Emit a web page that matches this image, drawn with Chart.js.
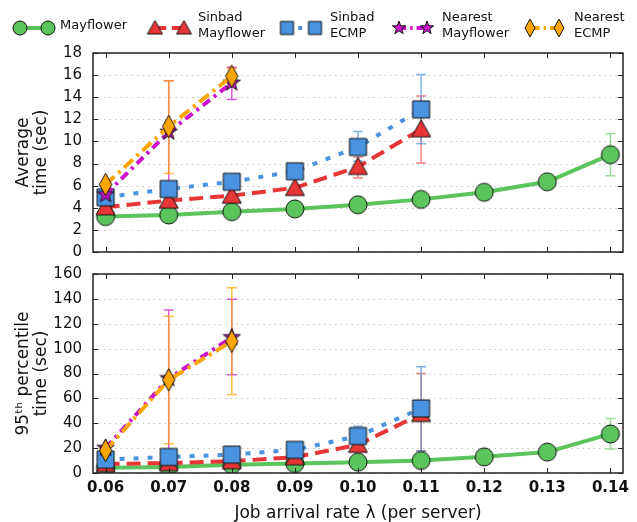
<!DOCTYPE html>
<html>
<head>
<meta charset="utf-8">
<script src="https://cdn.jsdelivr.net/npm/chart.js@4.4.0/dist/chart.umd.min.js"></script>
<style>
  body { margin: 0; background: #fff; font-family: 'DejaVu Sans', sans-serif; }
  #wrap { position: relative; width: 637px; height: 522px; overflow: hidden; }
  canvas.plot { position: absolute; left: 0; }
  .icon { position: absolute; top: 16px; }
  .lbl { position: absolute; top: 0; height: 50px; display: flex; align-items: center; font-size: 13px; line-height: 16px; color: #111; }
</style>
</head>
<body>
<div id="wrap">
  <canvas id="avgChart" class="plot" width="637" height="227" style="top:39px"></canvas>
  <canvas id="p95Chart" class="plot" width="637" height="265" style="top:257px"></canvas>
  <div id="legend"></div>
</div>
<script>
// x axis: job arrival rate per server
const rates = [0.06, 0.07, 0.08, 0.09, 0.10, 0.11, 0.12, 0.13, 0.14];

// Average time (sec)
const avgMayflower   = [3.2, 3.35, 3.65, 3.9, 4.27, 4.76, 5.4, 6.35, 8.8];
const avgSinbadMay   = [4.05, 4.65, 5.1, 5.8, 7.7, 11.1];
const avgSinbadEcmp  = [4.95, 5.7, 6.35, 7.3, 9.5, 12.9];
const avgNearestMay  = [5.2, 10.85, 15.3];
const avgNearestEcmp = [6.1, 11.35, 15.9];

// error bars [low, high] per point (null = none drawn)
const avgMayflowerErr   = [null, null, null, null, null, null, null, null, [6.9, 10.7]];
const avgSinbadMayErr   = [null, null, null, null, [6.7, 8.6], [8.05, 14.1]];
const avgSinbadEcmpErr  = [null, null, null, null, [8.2, 10.9], [9.8, 16.05]];
const avgNearestMayErr  = [null, [5.9, 15.5], [13.8, 16.7]];
const avgNearestEcmpErr = [null, [7.1, 15.5], [15.2, 16.6]];

// 95th percentile time (sec)
const p95Mayflower   = [4.2, 4.9, 6.6, 7.6, 8.7, 10.0, 13.0, 16.8, 31.4];
const p95SinbadMay   = [7.3, 8.0, 9.5, 12.7, 22.7, 47.5];
const p95SinbadEcmp  = [10.8, 12.9, 14.8, 18.6, 29.7, 51.9];
const p95NearestMay  = [20, 76, 109];
const p95NearestEcmp = [18.1, 74.9, 105.9];

const p95MayflowerErr   = [null, null, null, null, null, null, null, null, [19.2, 43.8]];
const p95SinbadMayErr   = [null, null, null, null, null, [17.6, 80]];
const p95SinbadEcmpErr  = [null, null, null, null, [25, 37.6], [17.6, 85.4]];
const p95NearestMayErr  = [null, [18, 131], [79, 139.7]];
const p95NearestEcmpErr = [null, [23.5, 126], [63.2, 149]];

const avgTicks = [0, 2, 4, 6, 8, 10, 12, 14, 16, 18];
const p95Ticks = [0, 20, 40, 60, 80, 100, 120, 140, 160];

Chart.defaults.font.family = "'DejaVu Sans', sans-serif";
Chart.defaults.color = '#111';

// marker images
function makeMarker(kind, fill, s) {
    const c = document.createElement('canvas');
    const pad = 2;
    let w = s, h = s;
    if (kind === 'diamond') { w = s * 0.62; h = s * 1.12; }
    c.width = Math.ceil(w + pad * 2);
    c.height = Math.ceil(h + pad * 2);
    const g = c.getContext('2d');
    const cx = c.width / 2, cy = c.height / 2;
    g.beginPath();
    if (kind === 'circle') {
        g.arc(cx, cy, s / 2, 0, Math.PI * 2);
    } else if (kind === 'triangle') {
        g.moveTo(cx, cy - s / 2);
        g.lineTo(cx + s / 2, cy + s / 2 * 0.8);
        g.lineTo(cx - s / 2, cy + s / 2 * 0.8);
        g.closePath();
    } else if (kind === 'square') {
        g.rect(cx - s / 2, cy - s / 2, s, s);
    } else if (kind === 'star') {
        for (let i = 0; i < 10; i++) {
            const r = i % 2 === 0 ? s / 2 : s / 5;
            const a = -Math.PI / 2 + i * Math.PI / 5;
            const px = cx + r * Math.cos(a), py = cy + r * Math.sin(a);
            if (i === 0) g.moveTo(px, py); else g.lineTo(px, py);
        }
        g.closePath();
    } else if (kind === 'diamond') {
        g.moveTo(cx, cy - h / 2);
        g.lineTo(cx + w / 2, cy);
        g.lineTo(cx, cy + h / 2);
        g.lineTo(cx - w / 2, cy);
        g.closePath();
    }
    g.fillStyle = fill;
    g.fill();
    g.lineWidth = 1;
    g.strokeStyle = '#111';
    g.stroke();
    return c;
}

const series = [
    { name: ['Mayflower'], color: '#5cc45c', err: 'rgba(92,196,92,0.6)', marker: 'circle', size: 18, dash: [] },
    { name: ['Sinbad', 'Mayflower'], color: '#e83535', err: 'rgba(232,53,53,0.6)', marker: 'triangle', size: 19, dash: [14, 7] },
    { name: ['Sinbad', 'ECMP'], color: '#4a93e0', err: 'rgba(74,147,224,0.7)', marker: 'square', size: 17, dash: [5, 9] },
    { name: ['Nearest', 'Mayflower'], color: '#cc11cc', err: 'rgba(204,17,204,0.7)', marker: 'star', size: 18, dash: [9, 5, 3, 5] },
    { name: ['Nearest', 'ECMP'], color: '#ffa500', err: 'rgba(255,165,0,0.75)', marker: 'diamond', size: 20, dash: [12, 5, 3, 5] }
];

function buildDatasets(values, errs) {
    return values.map((vals, k) => {
        const s = series[k];
        return {
            label: s.name.join(' '),
            data: vals.map((v, i) => ({ x: rates[i], y: v })),
            errors: errs[k],
            errorColor: s.err,
            borderColor: s.color,
            borderWidth: 4,
            borderDash: s.dash,
            pointStyle: makeMarker(s.marker, s.color, s.size),
            pointRadius: s.size / 2,
            fill: false,
            tension: 0,
            order: 5 - k
        };
    });
}

// horizontal dotted grid
const gridPlugin = {
    id: 'dotGrid',
    beforeDatasetsDraw(chart) {
        const { ctx, chartArea: a, scales: { y } } = chart;
        ctx.save();
        ctx.strokeStyle = '#c4c4c4';
        ctx.lineWidth = 1;
        ctx.setLineDash([1.5, 4]);
        y.ticks.forEach(t => {
            const py = Math.round(y.getPixelForValue(t.value)) + 0.5;
            ctx.beginPath();
            ctx.moveTo(a.left, py);
            ctx.lineTo(a.right, py);
            ctx.stroke();
        });
        ctx.restore();
    }
};

// error bars with caps
const errorPlugin = {
    id: 'errorBars',
    beforeDatasetsDraw(chart) {
        const { ctx, scales: { x, y } } = chart;
        chart.data.datasets.forEach(ds => {
            if (!ds.errors) return;
            ctx.save();
            ctx.strokeStyle = ds.errorColor;
            ctx.lineWidth = 1.5;
            ds.errors.forEach((e, i) => {
                if (!e) return;
                const px = x.getPixelForValue(rates[i]);
                const lo = y.getPixelForValue(e[0]);
                const hi = y.getPixelForValue(e[1]);
                ctx.beginPath();
                ctx.moveTo(px, lo); ctx.lineTo(px, hi);
                ctx.moveTo(px - 5, lo); ctx.lineTo(px + 5, lo);
                ctx.moveTo(px - 5, hi); ctx.lineTo(px + 5, hi);
                ctx.stroke();
            });
            ctx.restore();
        });
    }
};

// box frame with inward ticks
const framePlugin = {
    id: 'frame',
    afterDraw(chart) {
        const { ctx, chartArea: a, scales: { x, y } } = chart;
        ctx.save();
        ctx.strokeStyle = '#222';
        ctx.lineWidth = 1.5;
        ctx.setLineDash([]);
        ctx.strokeRect(a.left, a.top, a.right - a.left, a.bottom - a.top);
        ctx.lineWidth = 1;
        ctx.beginPath();
        x.ticks.forEach(t => {
            const px = Math.round(x.getPixelForValue(t.value)) + 0.5;
            ctx.moveTo(px, a.bottom); ctx.lineTo(px, a.bottom - 5);
            ctx.moveTo(px, a.top); ctx.lineTo(px, a.top + 5);
        });
        y.ticks.forEach(t => {
            const py = Math.round(y.getPixelForValue(t.value)) + 0.5;
            ctx.moveTo(a.left, py); ctx.lineTo(a.left + 5, py);
            ctx.moveTo(a.right, py); ctx.lineTo(a.right - 5, py);
        });
        ctx.stroke();
        ctx.restore();
    }
};

function makeChart(id, datasets, yMax, yTicks, yTitle, showX, pad) {
    return new Chart(document.getElementById(id), {
        type: 'line',
        data: { datasets: datasets },
        options: {
            responsive: false,
            animation: false,
            layout: { padding: { left: 0, right: 8, top: pad.top, bottom: 0 } },
            plugins: { legend: { display: false }, tooltip: { enabled: false } },
            scales: {
                x: {
                    type: 'linear',
                    min: 0.058,
                    max: 0.142,
                    afterBuildTicks: s => { s.ticks = rates.map(v => ({ value: v })); },
                    afterFit: s => { s.height = pad.xHeight; },
                    grid: { display: false },
                    border: { display: false },
                    ticks: {
                        display: showX,
                        padding: -2,
                        font: { size: 15, weight: 'bold' },
                        callback: v => v.toFixed(2)
                    },
                    title: {
                        display: showX,
                        text: 'Job arrival rate λ (per server)',
                        font: { size: 17, lineHeight: 1.0 },
                        padding: { top: 2, bottom: 0 }
                    }
                },
                y: {
                    min: 0,
                    max: yMax,
                    afterBuildTicks: s => { s.ticks = yTicks.map(v => ({ value: v })); },
                    afterFit: s => { s.width = 93; },
                    grid: { display: false },
                    border: { display: false },
                    ticks: { padding: 3, font: { size: 15 } },
                    title: {
                        display: true,
                        text: yTitle,
                        font: { size: 17, lineHeight: 1.1 },
                        padding: { top: 14, bottom: 0 }
                    }
                }
            }
        },
        plugins: [gridPlugin, errorPlugin, framePlugin]
    });
}

makeChart('avgChart',
    buildDatasets([avgMayflower, avgSinbadMay, avgSinbadEcmp, avgNearestMay, avgNearestEcmp],
                  [avgMayflowerErr, avgSinbadMayErr, avgSinbadEcmpErr, avgNearestMayErr, avgNearestEcmpErr]),
    18, avgTicks, ['Average', 'time (sec)'], false, { top: 11, xHeight: 5 });

makeChart('p95Chart',
    buildDatasets([p95Mayflower, p95SinbadMay, p95SinbadEcmp, p95NearestMay, p95NearestEcmp],
                  [p95MayflowerErr, p95SinbadMayErr, p95SinbadEcmpErr, p95NearestMayErr, p95NearestEcmpErr]),
    160, p95Ticks, ['95ᵗʰ percentile', 'time (sec)'], true, { top: 17, xHeight: 49 });

// legend: marker - line - marker, then label
const legendMarks = [[20, 48], [155, 184], [287, 315], [399, 427], [530, 559]];
const legendText = [60, 198, 330, 442, 574];
const legend = document.getElementById('legend');
series.forEach((s, k) => {
    const [m1, m2] = legendMarks[k];
    const c = document.createElement('canvas');
    c.className = 'icon';
    c.width = m2 - m1 + 24; c.height = 24;
    c.style.left = (m1 - 12) + 'px';
    const g = c.getContext('2d');
    const m = makeMarker(s.marker, s.color, Math.round(s.size * 0.78));
    g.strokeStyle = s.color;
    g.lineWidth = 4;
    g.setLineDash(s.dash.map(d => d * 0.8));
    g.beginPath(); g.moveTo(12, 12); g.lineTo(12 + m2 - m1, 12); g.stroke();
    g.drawImage(m, 12 - m.width / 2, 12 - m.height / 2);
    g.drawImage(m, 12 + m2 - m1 - m.width / 2, 12 - m.height / 2);
    legend.appendChild(c);
    const t = document.createElement('div');
    t.className = 'lbl';
    t.style.left = legendText[k] + 'px';
    t.innerHTML = s.name.join('<br>');
    legend.appendChild(t);
});
</script>
</body>
</html>
